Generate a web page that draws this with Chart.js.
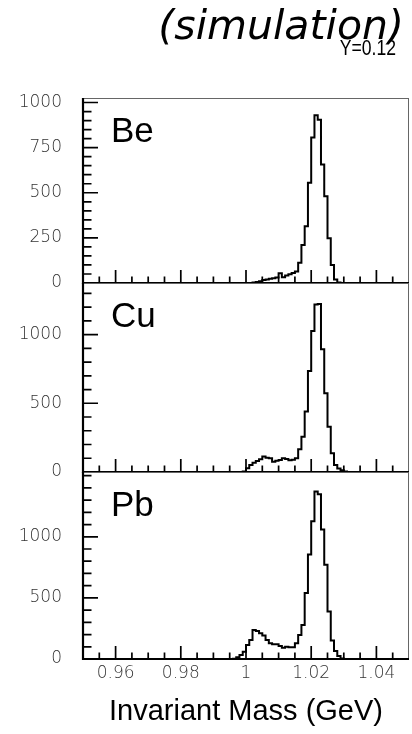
<!DOCTYPE html>
<html>
<head>
<meta charset="utf-8">
<script src="https://cdn.jsdelivr.net/npm/chart.js@4.4.0/dist/chart.umd.min.js"></script>
<style>
    html, body { margin: 0; padding: 0; background: #fff; }
    #wrap { position: relative; width: 412px; height: 734px; overflow: hidden; }
    canvas { position: absolute; left: 0; }
</style>
</head>
<body>
<div id="wrap">
    <canvas id="chart-be" width="412" height="318" style="top:0px"></canvas>
    <canvas id="chart-cu" width="412" height="259" style="top:248px"></canvas>
    <canvas id="chart-pb" width="412" height="297" style="top:437px"></canvas>
</div>
<script>
// histogram bins: 1 MeV wide, first listed bin starts at 0.995 GeV
const massMin = 0.95;
const massMax = 1.05;
const binStart = 0.995;
const binWidth = 0.001;

const beCounts = [0, 0, 0, 0, 0, 0, 0, 3, 6, 10, 17, 20, 24, 27, 30, 54, 32, 42,
    48, 56, 64, 112, 210, 315, 556, 806, 930, 905, 656, 480, 248, 100, 20, 3, 0, 0];
const cuCounts = [0, 0, 0, 0, 3, 27, 51, 68, 80, 92, 112, 104, 100, 75, 82, 87, 100, 95,
    85, 90, 100, 165, 257, 440, 735, 1026, 1218, 1222, 893, 573, 330, 136, 51, 25, 12, 3];
const pbCounts = [0, 3, 14, 33, 60, 115, 156, 238, 230, 211, 192, 156, 129, 120, 120, 107, 93, 101,
    96, 96, 129, 197, 279, 540, 855, 1128, 1370, 1348, 1060, 772, 389, 151, 66, 25, 5, 0];

const panelNames = ["Be", "Cu", "Pb"];
const xTickValues = [0.96, 0.98, 1.0, 1.02, 1.04];
const yTickValues = [
    [0, 250, 500, 750, 1000],
    [0, 500, 1000],
    [0, 500, 1000],
];
const yMaxes = [1025, 1375, 1530];
const yMinorSteps = [50, 100, 100];
const xMinorStep = 0.005;

function histPoints(counts) {
    let pts = [{ x: massMin, y: 0 }];
    counts.forEach(function (c, k) {
        pts.push({ x: binStart + k * binWidth, y: c });
    });
    pts.push({ x: binStart + counts.length * binWidth, y: 0 });
    pts.push({ x: massMax, y: 0 });
    return pts;
}

function nearTick(v, list, eps) {
    return list.some((t) => Math.abs(t - v) < eps);
}

// frame, inward ticks and panel label
const framePlugin = {
    id: "frameTicks",
    afterDatasetsDraw(chart, args, opts) {
        const { ctx, chartArea: a, scales } = chart;
        const x = scales.x, y = scales.y;
        ctx.save();
        ctx.strokeStyle = "#000";
        ctx.lineWidth = 1.7;
        ctx.beginPath();
        const nx = Math.round((massMax - massMin) / xMinorStep);
        for (let k = 1; k < nx; k++) {
            const v = massMin + k * xMinorStep;
            const px = x.getPixelForValue(v);
            const major = nearTick(v, xTickValues, 1e-6);
            ctx.moveTo(px, a.bottom);
            ctx.lineTo(px, a.bottom - (major ? 13 : 6.5));
        }
        for (let v = opts.minor; v < y.max; v += opts.minor) {
            const py = y.getPixelForValue(v);
            const major = nearTick(v, opts.majors, 1e-6);
            ctx.moveTo(a.left, py);
            ctx.lineTo(a.left + (major ? 15 : 8.5), py);
        }
        ctx.stroke();

        ctx.lineWidth = 1;
        ctx.strokeStyle = "#666";
        ctx.strokeRect(a.left + 0.5, a.top + 0.5, a.width - 1, a.height - 1);
        ctx.lineWidth = 2.2;
        ctx.strokeStyle = "#000";
        ctx.beginPath();
        ctx.moveTo(a.left, a.top);
        ctx.lineTo(a.left, a.bottom);
        ctx.lineTo(a.right, a.bottom);
        ctx.stroke();

        ctx.fillStyle = "#000";
        ctx.font = "35px 'Liberation Sans', Arial, sans-serif";
        ctx.textAlign = "left";
        ctx.textBaseline = "alphabetic";
        ctx.fillText(opts.label, a.left + 28, a.top + 44);
        ctx.restore();
    }
};

const headerPlugin = {
    id: "header",
    afterDraw(chart, args, opts) {
        if (!opts.show) return;
        const ctx = chart.ctx;
        ctx.save();
        ctx.fillStyle = "#000";
        ctx.textAlign = "right";
        ctx.textBaseline = "alphabetic";
        ctx.font = "italic 41px 'DejaVu Sans', sans-serif";
        ctx.fillText("(simulation)", 404, 39);
        ctx.translate(396, 55);
        ctx.scale(0.8, 1);
        ctx.font = "22px 'Liberation Sans', Arial, sans-serif";
        ctx.fillText("Y=0.12", 0, 0);
        ctx.restore();
    }
};

const tickFont = { family: "'DejaVu Sans', sans-serif", size: 17, weight: "200" };

function makePanel(canvasId, idx, counts, padding, isBottom) {
    return new Chart(document.getElementById(canvasId), {
        type: "line",
        data: {
            datasets: [
                {
                    data: histPoints(counts),
                    stepped: "before",
                    borderColor: "#000",
                    borderWidth: 2,
                    pointRadius: 0,
                    fill: false,
                },
            ],
        },
        options: {
            responsive: false,
            animation: false,
            devicePixelRatio: 1,
            layout: { padding: padding },
            plugins: {
                legend: { display: false },
                tooltip: { enabled: false },
                frameTicks: {
                    label: panelNames[idx],
                    majors: yTickValues[idx],
                    minor: yMinorSteps[idx],
                },
                header: { show: idx === 0 },
            },
            scales: {
                x: {
                    type: "linear",
                    display: isBottom,
                    min: massMin,
                    max: massMax,
                    grid: { display: false, drawTicks: false },
                    border: { display: false },
                    afterBuildTicks: (scale) => {
                        scale.ticks = xTickValues.map((v) => ({ value: v }));
                    },
                    ticks: {
                        padding: 4,
                        color: "#333",
                        font: tickFont,
                        maxRotation: 0,
                        autoSkip: false,
                        callback: (v) => String(+v.toFixed(2)),
                    },
                    title: {
                        display: isBottom,
                        text: "Invariant Mass (GeV)",
                        color: "#000",
                        font: { family: "'Liberation Sans', Arial, sans-serif", size: 29 },
                        padding: { top: 0, bottom: 5 },
                    },
                    afterFit: (scale) => {
                        if (isBottom) scale.height = 75;
                    },
                },
                y: {
                    min: 0,
                    max: yMaxes[idx],
                    grid: { display: false, drawTicks: false },
                    border: { display: false },
                    afterBuildTicks: (scale) => {
                        scale.ticks = yTickValues[idx].map((v) => ({ value: v }));
                    },
                    ticks: {
                        padding: 21,
                        color: "#333",
                        font: tickFont,
                        autoSkip: false,
                        callback: (v) => String(v),
                    },
                    afterFit: (scale) => {
                        scale.width = 83;
                    },
                },
            },
        },
        plugins: [framePlugin, headerPlugin],
    });
}

makePanel("chart-be", 0, beCounts, { top: 98, bottom: 35, left: 0, right: 3 }, false);
makePanel("chart-cu", 1, cuCounts, { top: 35, bottom: 35, left: 0, right: 3 }, false);
makePanel("chart-pb", 2, pbCounts, { top: 35, bottom: 0, left: 0, right: 3 }, true);
</script>
</body>
</html>
